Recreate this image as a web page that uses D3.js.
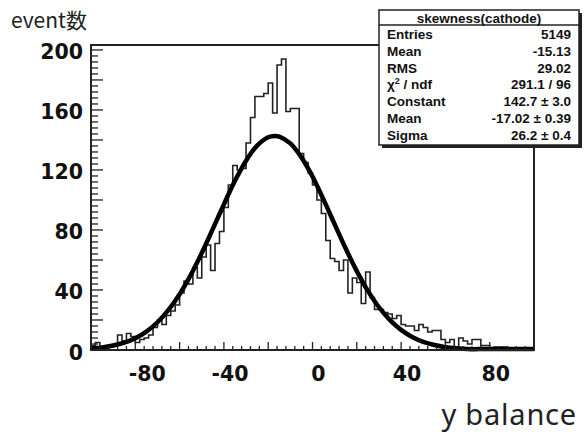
<!DOCTYPE html>
<html>
<head>
<meta charset="utf-8">
<title>skewness(cathode)</title>
<style>
  body { margin: 0; background: #fff; }
  svg { display: block; }
  .tick-label { font-family: "DejaVu Sans", Verdana, sans-serif; font-weight: bold; font-size: 20.5px; fill: #111; }
  .stats text { font-family: "Liberation Sans", Arial, sans-serif; font-weight: bold; font-size: 13.5px; fill: #111; }
</style>
</head>
<body>
<svg width="587" height="433"></svg>
<script src="https://d3js.org/d3.v7.min.js"></script>
<script>
// histogram: 100 bins of width 2 from -100 to 100 (counts)
var binStart = -100, binWidth = 2;
var counts = [
  3, 5, 2, 1, 2, 3, 10, 6, 11, 9,
  5, 7, 8, 10, 15, 20, 17, 23, 26, 30,
  38, 46, 44, 55, 48, 62, 70, 53, 71, 79,
  95, 110, 123, 120, 121, 138, 155, 169, 169, 171,
  178, 158, 190, 194, 159, 161, 161, 131, 125, 118,
  110, 100, 91, 73, 61, 59, 53, 60, 38, 48,
  45, 31, 52, 35, 27, 27, 25, 24, 21, 23,
  17, 16, 16, 13, 17, 15, 12, 13, 13, 7,
  5, 7, 2, 8, 6, 4, 7, 7, 3, 3,
  1, 2, 2, 2, 1, 1, 1, 0, 0, 0
];

// gaussian fit curve
var fitX = [-100, -95, -90, -85, -80, -75, -70, -65, -60, -55, -50, -45, -40, -35, -30, -25, -20, -17,
            -15, -10, -5, 0, 5, 10, 15, 20, 25, 30, 35, 40, 45, 50, 55, 60, 65, 70, 75, 80, 90, 100];
var fitY = [1.0, 1.7, 3.0, 4.9, 7.9, 12.3, 18.5, 26.7, 37.2, 49.9, 64.6, 80.7, 97.1, 112.8, 126.2, 136.2, 141.8, 142.7,
            142.3, 137.7, 128.4, 115.6, 100.2, 83.8, 67.6, 52.6, 39.4, 28.5, 19.9, 13.4, 8.7, 5.4, 3.3, 1.9, 1.1, 0.6, 0.3, 0.15, 0.03, 0];

var xTickLabels = [-80, -40, 0, 40, 80];
var yTickLabels = [0, 40, 80, 120, 160, 200];

var statsTitle = "skewness(cathode)";
var statsNames = ["Entries", "Mean", "RMS", "χ2 / ndf", "Constant", "Mean", "Sigma"];
var statsValues = ["5149", "-15.13", "29.02", "291.1 / 96", "142.7 ± 3.0", "-17.02 ± 0.39", "26.2 ± 0.4"];

var svg = d3.select("svg");
var L = 91, R = 534, T = 45, B = 350;

var x = d3.scaleLinear().domain([-100, 100]).range([L, R]);
var y = d3.scaleLinear().domain([0, 203.3]).range([B, T]);

// histogram outline
var pts = counts.map(function(c, i) { return [binStart + i * binWidth, c]; });
pts.push([binStart + counts.length * binWidth, counts[counts.length - 1]]);
svg.append("path")
  .datum(pts)
  .attr("fill", "none")
  .attr("stroke", "#222")
  .attr("stroke-width", 1.6)
  .attr("d", d3.line().curve(d3.curveStepAfter)
    .x(function(d) { return x(d[0]); })
    .y(function(d) { return y(d[1]); }));

// fit
svg.append("path")
  .datum(d3.zip(fitX, fitY))
  .attr("fill", "none")
  .attr("stroke", "#000")
  .attr("stroke-width", 4.5)
  .attr("d", d3.line().curve(d3.curveCatmullRom)
    .x(function(d) { return x(d[0]); })
    .y(function(d) { return y(Math.max(d[1], 0.6)); }));

// ticks (inside frame, ROOT style)
var g = svg.append("g").attr("stroke", "#222").attr("stroke-width", 1.3);
d3.range(-96, 100, 4).forEach(function(v) {
  var major = v % 20 === 0;
  g.append("line").attr("x1", x(v)).attr("x2", x(v))
    .attr("y1", B).attr("y2", B - (major ? 8 : 4));
});
d3.range(4, 203, 4).forEach(function(v) {
  var major = v % 20 === 0;
  g.append("line").attr("y1", y(v)).attr("y2", y(v))
    .attr("x1", L).attr("x2", L + (major ? 12 : 7));
});

// frame
svg.append("rect")
  .attr("x", L).attr("y", T).attr("width", R - L).attr("height", B - T)
  .attr("fill", "none").attr("stroke", "#222").attr("stroke-width", 2);

// tick labels
svg.append("g").selectAll("text").data(xTickLabels).join("text")
  .attr("class", "tick-label")
  .attr("x", function(d) { return x(d) + (d === -80 ? 12 : 6); })
  .attr("y", 381)
  .attr("text-anchor", "middle")
  .text(function(d) { return d; });

svg.append("g").selectAll("text").data(yTickLabels).join("text")
  .attr("class", "tick-label")
  .attr("x", 83)
  .attr("y", function(d) { return y(d) + 9.5; })
  .attr("text-anchor", "end")
  .text(function(d) { return d; });

// axis titles
svg.append("text").attr("x", 11).attr("y", 28)
  .style("font-family", "'Noto Sans CJK JP', 'Noto Sans', sans-serif")
  .style("font-size", "21px").attr("fill", "#222")
  .text("event数");
svg.append("text").attr("x", 577).attr("y", 425)
  .attr("text-anchor", "end")
  .style("font-family", "'Noto Sans', 'Open Sans', sans-serif")
  .style("font-size", "29px").style("letter-spacing", "0.8px").attr("fill", "#222")
  .text("y balance");

// stats box
var bx = 379, by = 10, bw = 200, bh = 135;
var st = svg.append("g").attr("class", "stats");
st.append("rect").attr("x", bx + 3).attr("y", by + 3).attr("width", bw).attr("height", bh).attr("fill", "#222");
st.append("rect").attr("x", bx).attr("y", by).attr("width", bw).attr("height", bh)
  .attr("fill", "#fff").attr("stroke", "#222").attr("stroke-width", 1.5);
st.append("line").attr("x1", bx).attr("x2", bx + bw).attr("y1", by + 15).attr("y2", by + 15)
  .attr("stroke", "#222").attr("stroke-width", 1.5);
st.append("text").attr("x", bx + bw / 2).attr("y", by + 12.5).attr("text-anchor", "middle")
  .style("font-size", "13.5px").text(statsTitle);
statsNames.forEach(function(n, i) {
  var ty = by + 29 + i * 16.8;
  var t = st.append("text").attr("x", bx + 8).attr("y", ty);
  if (n.indexOf("χ2") === 0) {
    t.text("χ");
    t.append("tspan").attr("dy", -5).style("font-size", "9px").text("2");
    t.append("tspan").attr("dy", 5).text(" / ndf");
  } else {
    t.text(n);
  }
  st.append("text").attr("x", bx + bw - 8).attr("y", ty).attr("text-anchor", "end").text(statsValues[i]);
});
</script>
</body>
</html>
